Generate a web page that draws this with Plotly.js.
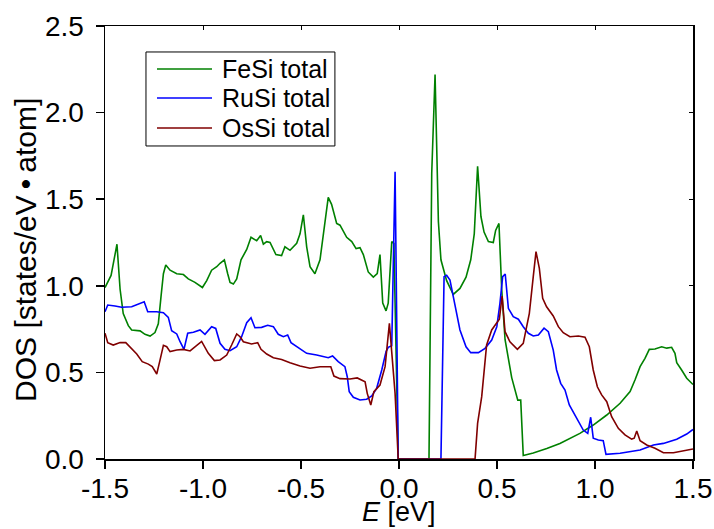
<!DOCTYPE html>
<html>
<head>
<meta charset="utf-8">
<script src="https://cdn.plot.ly/plotly-3.0.1.min.js"></script>
<style>
  html, body { margin: 0; padding: 0; background: #fff; }
  #chart { width: 714px; height: 529px; }
</style>
</head>
<body>
<div id="chart"></div>
<script>
// Total density of states of the B20 monosilicides near the Fermi level.
const seriesNames = ['FeSi total', 'RuSi total', 'OsSi total'];
const seriesColors = ['#008000', '#0000ff', '#800000'];

const feSiE = [-1.5, -1.469, -1.439, -1.423, -1.407, -1.381, -1.364, -1.321, -1.296, -1.270,
  -1.245, -1.228, -1.214, -1.202, -1.190, -1.168, -1.134, -1.100, -1.075, -1.041,
  -1.003, -0.981, -0.956, -0.930, -0.913, -0.891, -0.874, -0.862, -0.845, -0.828,
  -0.806, -0.777, -0.755, -0.726, -0.706, -0.692, -0.675, -0.658, -0.628, -0.599,
  -0.582, -0.556, -0.522, -0.505, -0.488, -0.471, -0.454, -0.429, -0.403, -0.383,
  -0.361, -0.344, -0.318, -0.301, -0.267, -0.241, -0.219, -0.199, -0.182, -0.157,
  -0.131, -0.111, -0.097, -0.083, -0.066, -0.055, -0.037, -0.026, -0.004, 0.153,
  0.167, 0.184, 0.201, 0.214, 0.243, 0.277, 0.311, 0.342, 0.366, 0.384,
  0.401, 0.418, 0.434, 0.456, 0.481, 0.493, 0.510, 0.524, 0.541, 0.575,
  0.606, 0.621, 0.634, 0.685, 0.754, 0.821, 0.923, 0.991, 1.060, 1.128,
  1.179, 1.204, 1.230, 1.255, 1.277, 1.306, 1.340, 1.366, 1.391, 1.408,
  1.417, 1.442, 1.468, 1.5];
const feSiDOS = [0.99, 1.06, 1.24, 0.98, 0.84, 0.77, 0.745, 0.74, 0.72, 0.71,
  0.73, 0.78, 0.94, 1.07, 1.12, 1.09, 1.07, 1.065, 1.04, 1.02,
  0.99, 1.03, 1.09, 1.11, 1.13, 1.15, 1.07, 1.02, 1.01, 1.04,
  1.15, 1.21, 1.28, 1.26, 1.29, 1.24, 1.255, 1.25, 1.18, 1.175,
  1.225, 1.205, 1.245, 1.30, 1.41, 1.225, 1.11, 1.07, 1.15, 1.32,
  1.51, 1.47, 1.36, 1.35, 1.28, 1.255, 1.215, 1.22, 1.18, 1.08,
  1.05, 1.07, 1.18, 0.90, 0.855, 0.90, 1.255, 1.245, 0, 0,
  1.65, 2.22, 1.37, 1.15, 1.03, 0.95, 0.985, 1.05, 1.15, 1.30,
  1.69, 1.40, 1.31, 1.255, 1.25, 1.32, 1.36, 0.98, 0.69, 0.47,
  0.34, 0.34, 0.02, 0.035, 0.06, 0.09, 0.148, 0.196, 0.254, 0.322,
  0.389, 0.456, 0.533, 0.581, 0.633, 0.635, 0.648, 0.64, 0.645, 0.61,
  0.556, 0.514, 0.466, 0.43];

const ruSiE = [-1.5, -1.486, -1.449, -1.415, -1.364, -1.330, -1.313, -1.300, -1.282, -1.236,
  -1.202, -1.177, -1.160, -1.134, -1.117, -1.097, -1.078, -1.049, -1.015, -0.990,
  -0.956, -0.935, -0.913, -0.888, -0.862, -0.828, -0.803, -0.777, -0.755, -0.735,
  -0.701, -0.670, -0.641, -0.616, -0.590, -0.568, -0.551, -0.505, -0.471, -0.420,
  -0.361, -0.339, -0.310, -0.276, -0.264, -0.254, -0.233, -0.199, -0.165, -0.139,
  -0.114, -0.088, -0.066, -0.055, -0.037, -0.020, -0.004, 0.214, 0.230, 0.243,
  0.260, 0.277, 0.311, 0.342, 0.366, 0.405, 0.439, 0.473, 0.499, 0.515,
  0.529, 0.542, 0.558, 0.583, 0.609, 0.634, 0.660, 0.685, 0.711, 0.740,
  0.762, 0.787, 0.804, 0.825, 0.847, 0.869, 0.889, 0.920, 0.940, 0.963,
  0.978, 0.991, 1.017, 1.042, 1.056, 1.128, 1.230, 1.298, 1.349, 1.417,
  1.468, 1.5];
const ruSiDOS = [0.85, 0.889, 0.883, 0.876, 0.879, 0.895, 0.899, 0.908, 0.85, 0.85,
  0.845, 0.818, 0.741, 0.722, 0.677, 0.633, 0.726, 0.732, 0.745, 0.72,
  0.764, 0.754, 0.668, 0.633, 0.625, 0.648, 0.706, 0.787, 0.816, 0.758,
  0.76, 0.772, 0.764, 0.72, 0.706, 0.716, 0.672, 0.639, 0.61, 0.60,
  0.585, 0.595, 0.562, 0.533, 0.475, 0.389, 0.356, 0.341, 0.345, 0.364,
  0.408, 0.514, 0.62, 0.645, 0.654, 1.659, 0, 0, 1.053, 1.061,
  1.033, 0.937, 0.745, 0.648, 0.614, 0.614, 0.639, 0.687, 0.764, 0.899,
  1.053, 1.068, 0.87, 0.822, 0.807, 0.764, 0.726, 0.71, 0.716, 0.755,
  0.735, 0.629, 0.514, 0.437, 0.398, 0.312, 0.273, 0.206, 0.167, 0.148,
  0.241, 0.12, 0.11, 0.106, 0.027, 0.033, 0.052, 0.081, 0.09, 0.114,
  0.144, 0.171];

const osSiE = [-1.5, -1.486, -1.458, -1.423, -1.394, -1.364, -1.338, -1.310, -1.279, -1.259,
  -1.236, -1.219, -1.202, -1.185, -1.168, -1.134, -1.100, -1.066, -1.041, -1.007,
  -0.973, -0.942, -0.913, -0.879, -0.854, -0.828, -0.811, -0.794, -0.752, -0.721,
  -0.704, -0.675, -0.641, -0.599, -0.556, -0.505, -0.454, -0.403, -0.348, -0.332,
  -0.301, -0.250, -0.213, -0.173, -0.162, -0.144, -0.128, -0.097, -0.071, -0.049,
  -0.020, -0.004, 0.388, 0.401, 0.422, 0.447, 0.473, 0.499, 0.512, 0.526,
  0.541, 0.566, 0.604, 0.634, 0.665, 0.685, 0.699, 0.716, 0.733, 0.753,
  0.787, 0.813, 0.838, 0.872, 0.915, 0.949, 0.971, 0.991, 1.012, 1.034,
  1.060, 1.085, 1.119, 1.153, 1.187, 1.200, 1.213, 1.230, 1.264, 1.306,
  1.349, 1.400, 1.451, 1.5];
const osSiDOS = [0.726, 0.672, 0.658, 0.672, 0.672, 0.639, 0.606, 0.562, 0.548, 0.533,
  0.491, 0.572, 0.656, 0.648, 0.62, 0.629, 0.633, 0.624, 0.648, 0.679,
  0.61, 0.568, 0.572, 0.60, 0.658, 0.722, 0.706, 0.677, 0.664, 0.672,
  0.633, 0.606, 0.585, 0.574, 0.556, 0.537, 0.524, 0.533, 0.533, 0.479,
  0.464, 0.462, 0.468, 0.446, 0.379, 0.312, 0.389, 0.427, 0.533, 0.783,
  0.379, 0, 0, 0.206, 0.36, 0.658, 0.745, 0.787, 0.807, 0.941,
  0.735, 0.677, 0.633, 0.668, 0.841, 1.053, 1.197, 1.101, 0.928, 0.879,
  0.826, 0.764, 0.729, 0.706, 0.71, 0.703, 0.648, 0.514, 0.417, 0.37,
  0.331, 0.244, 0.177, 0.139, 0.115, 0.12, 0.162, 0.106, 0.081, 0.062,
  0.036, 0.036, 0.046, 0.058];

const xTickVals = [-1.5, -1.0, -0.5, 0.0, 0.5, 1.0, 1.5];
const xTickText = ['-1.5', '-1.0', '-0.5', '0.0', '0.5', '1.0', '1.5'];
const yTickVals = [0.0, 0.5, 1.0, 1.5, 2.0, 2.5];
const yTickText = ['0.0', '0.5', '1.0', '1.5', '2.0', '2.5'];
const xTitle = '<i>E</i> [eV]';
const yTitle = 'DOS [states/eV\u2009\u2022\u2009atom]';

const FONT = '"Liberation Sans", Arial, Helvetica, sans-serif';
const energies = [feSiE, ruSiE, osSiE];
const dos = [feSiDOS, ruSiDOS, osSiDOS];

const traces = seriesNames.map((name, i) => ({
  type: 'scatter', mode: 'lines', name: name,
  x: energies[i], y: dos[i],
  line: { color: seriesColors[i], width: 1.6 },
  showlegend: false, hoverinfo: 'skip'
}));
// carrier for the inward tick marks on the top and right frame
traces.push({ type: 'scatter', mode: 'lines', x: [], y: [], xaxis: 'x2', yaxis: 'y2',
  showlegend: false, hoverinfo: 'skip' });

// hand-built legend box (long line samples)
const legBox = { x0: 0.0697, x1: 0.391, y0: 0.7229, y1: 0.940 };
const legRows = [0.9007, 0.8337, 0.7644];
const shapes = [{
  type: 'rect', xref: 'paper', yref: 'paper',
  x0: legBox.x0, x1: legBox.x1, y0: legBox.y0, y1: legBox.y1,
  line: { color: '#000', width: 1 }, fillcolor: '#fff'
}];
const annotations = [];
seriesNames.forEach((name, i) => {
  shapes.push({ type: 'line', xref: 'paper', yref: 'paper',
    x0: 0.0884, x1: 0.182, y0: legRows[i], y1: legRows[i],
    line: { color: seriesColors[i], width: 1.3 } });
  annotations.push({ xref: 'paper', yref: 'paper', x: 0.1956, y: legRows[i],
    xanchor: 'left', yanchor: 'middle', showarrow: false, text: name,
    font: { family: FONT, size: 25, color: '#000' } });
});

// axis titles placed as annotations for exact positioning
annotations.push({ xref: 'paper', yref: 'paper', x: 0.5, y: -0.1617,
  xanchor: 'center', yanchor: 'bottom', showarrow: false, text: xTitle,
  font: { family: FONT, size: 27, color: '#000' } });
annotations.push({ xref: 'paper', yref: 'paper', x: -0.1344, y: 0.4827,
  xanchor: 'center', yanchor: 'middle', showarrow: false, textangle: -90, text: yTitle,
  font: { family: FONT, size: 30, color: '#000' } });

const axisCommon = {
  showline: true, linecolor: '#000', linewidth: 1.5,
  showgrid: false, zeroline: false,
  ticks: 'outside', ticklen: 8, tickwidth: 1.5, tickcolor: '#000',
  tickfont: { family: FONT, size: 28, color: '#000' },
  mirror: true, layer: 'below traces', fixedrange: true
};

const layout = {
  width: 714, height: 529,
  margin: { l: 105, r: 21, t: 26, b: 70, pad: 0 },
  paper_bgcolor: '#fff', plot_bgcolor: '#fff',
  font: { family: FONT, color: '#000' },
  xaxis: Object.assign({}, axisCommon, {
    range: [-1.5, 1.5], tickmode: 'array', tickvals: xTickVals, ticktext: xTickText,
    ticklabelstandoff: -4
  }),
  yaxis: Object.assign({}, axisCommon, {
    range: [0, 2.5], tickmode: 'array', tickvals: yTickVals, ticktext: yTickText,
    ticklabelstandoff: 6
  }),
  xaxis2: {
    overlaying: 'x', side: 'top', anchor: 'y2', range: [-1.5, 1.5],
    tickmode: 'array', tickvals: xTickVals, ticks: 'inside', ticklen: 4, tickwidth: 1,
    tickcolor: '#000', showticklabels: false, showline: false, showgrid: false, zeroline: false,
    fixedrange: true
  },
  yaxis2: {
    overlaying: 'y', side: 'right', anchor: 'x2', range: [0, 2.5],
    tickmode: 'array', tickvals: yTickVals, ticks: 'inside', ticklen: 4, tickwidth: 1,
    tickcolor: '#000', showticklabels: false, showline: false, showgrid: false, zeroline: false,
    fixedrange: true
  },
  shapes: shapes,
  annotations: annotations,
  showlegend: false
};

Plotly.newPlot('chart', traces, layout, { staticPlot: true, displayModeBar: false });
</script>
</body>
</html>
